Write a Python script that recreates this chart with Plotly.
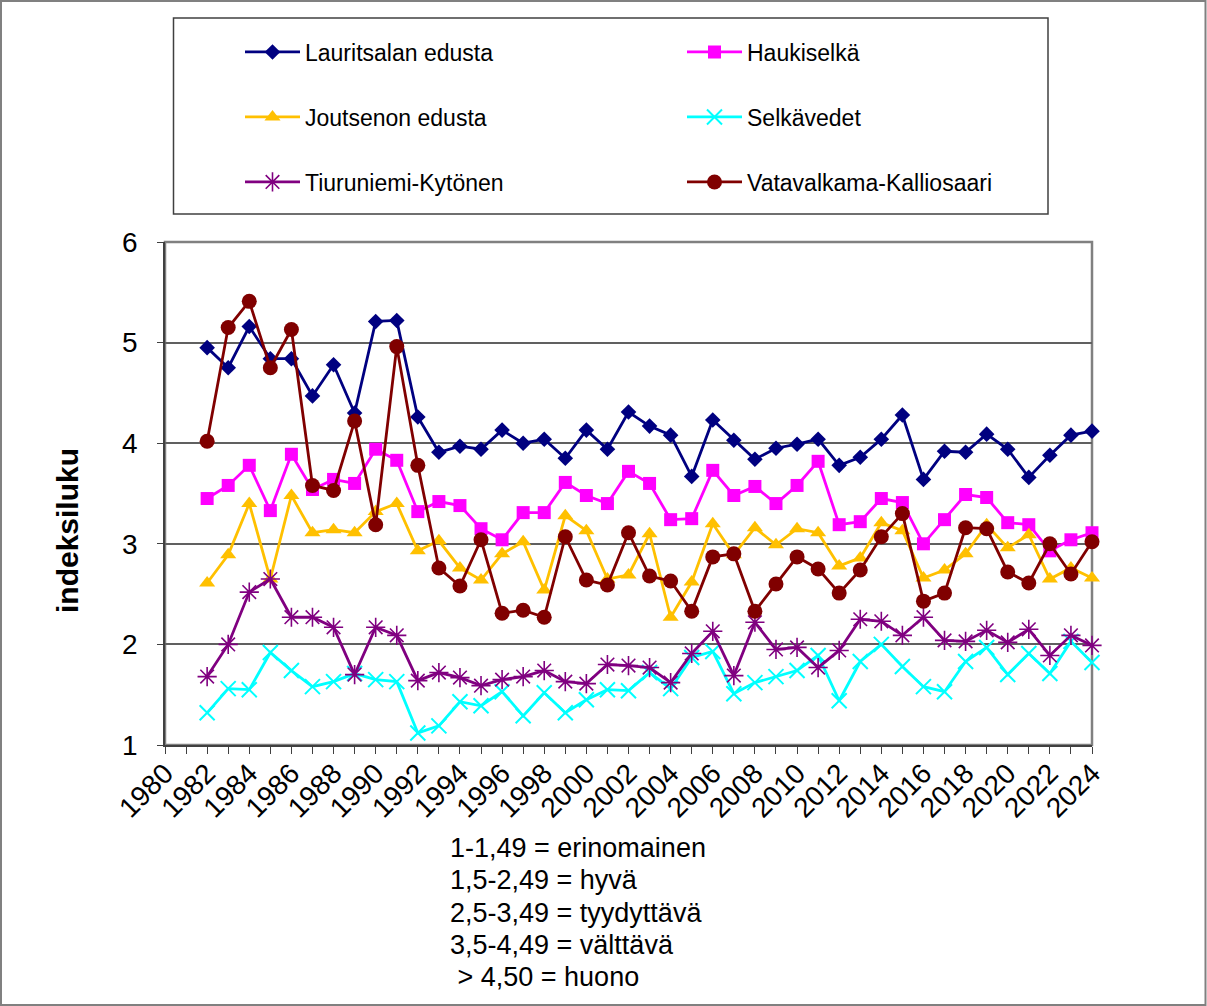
import plotly.graph_objects as go

years = list(range(1982, 2025))

lauritsalan = [4.95, 4.75, 5.16, 4.84, 4.84, 4.47, 4.78, 4.30, 5.21, 5.22, 4.26, 3.91, 3.97, 3.94,
               4.13, 4.00, 4.04, 3.85, 4.13, 3.94, 4.31, 4.17, 4.08, 3.67, 4.23, 4.03, 3.84, 3.95,
               3.99, 4.04, 3.78, 3.86, 4.04, 4.28, 3.64, 3.92, 3.91, 4.09, 3.94, 3.66, 3.88, 4.08, 4.12]
haukiselka = [3.45, 3.58, 3.78, 3.33, 3.89, 3.54, 3.64, 3.60, 3.94, 3.83, 3.32, 3.42, 3.38, 3.15,
              3.04, 3.31, 3.31, 3.61, 3.48, 3.40, 3.72, 3.60, 3.24, 3.25, 3.73, 3.48, 3.57, 3.40,
              3.58, 3.82, 3.19, 3.22, 3.45, 3.41, 3.00, 3.24, 3.49, 3.46, 3.21, 3.19, 2.93, 3.04, 3.11]
joutsenon = [2.61, 2.89, 3.40, 2.65, 3.48, 3.11, 3.14, 3.11, 3.32, 3.40, 2.93, 3.03, 2.76, 2.64,
             2.90, 3.02, 2.54, 3.28, 3.13, 2.65, 2.69, 3.10, 2.27, 2.62, 3.20, 2.89, 3.16, 2.99,
             3.15, 3.11, 2.78, 2.86, 3.21, 3.13, 2.66, 2.74, 2.90, 3.19, 2.96, 3.09, 2.65, 2.76, 2.66]
selkavedet = [1.32, 1.56, 1.55, 1.92, 1.74, 1.58, 1.63, 1.71, 1.65, 1.63, 1.12, 1.19, 1.43, 1.39,
              1.53, 1.29, 1.52, 1.32, 1.45, 1.55, 1.54, 1.72, 1.56, 1.87, 1.93, 1.51, 1.62, 1.68,
              1.74, 1.89, 1.44, 1.83, 2.00, 1.78, 1.58, 1.53, 1.83, 1.97, 1.70, 1.91, 1.71, 2.03, 1.82]
tiuruniemi = [1.68, 2.00, 2.52, 2.65, 2.27, 2.27, 2.17, 1.70, 2.17, 2.09, 1.64, 1.72, 1.67, 1.59,
              1.65, 1.68, 1.74, 1.63, 1.61, 1.80, 1.79, 1.77, 1.62, 1.91, 2.13, 1.69, 2.22, 1.95,
              1.97, 1.77, 1.94, 2.25, 2.23, 2.09, 2.27, 2.04, 2.03, 2.14, 2.02, 2.15, 1.89, 2.09, 1.99]
vatavalkama = [4.02, 5.15, 5.41, 4.75, 5.13, 3.58, 3.53, 4.22, 3.19, 4.96, 3.78, 2.76, 2.58, 3.04,
               2.31, 2.34, 2.27, 3.07, 2.64, 2.59, 3.11, 2.68, 2.63, 2.33, 2.87, 2.90, 2.33, 2.60,
               2.87, 2.75, 2.51, 2.74, 3.07, 3.30, 2.43, 2.51, 3.16, 3.15, 2.72, 2.61, 3.00, 2.70, 3.02]

series_names = ["Lauritsalan edusta", "Haukiselkä", "Joutsenon edusta",
                "Selkävedet", "Tiuruniemi-Kytönen", "Vatavalkama-Kalliosaari"]
series_values = [lauritsalan, haukiselka, joutsenon, selkavedet, tiuruniemi, vatavalkama]

tick_years = list(range(1980, 2025))
tick_labels = [str(y) if y % 2 == 0 else "" for y in tick_years]

class_lines = ["1-1,49 = erinomainen", "1,5-2,49 = hyvä", "2,5-3,49 = tyydyttävä",
               "3,5-4,49 = välttävä", " > 4,50 = huono"]
y_title = "indeksiluku"

FONT = "Liberation Sans, Arial, sans-serif"

styles = [
    dict(color="#000080", symbol="diamond", size=12, mline=0),
    dict(color="#FF00FF", symbol="square", size=13, mline=0),
    dict(color="#FFC000", symbol="triangle-up", size=14, mline=0),
    dict(color="#00FFFF", symbol="x-thin-open", size=15, mline=2),
    dict(color="#800080", symbol="asterisk-open", size=16, mline=1.6),
    dict(color="#800000", symbol="circle", size=15, mline=0),
]

# plot area in pixels
L, R, T, B = 165, 1092, 242, 745
W, H = 1207, 1006
def px(x):
    return (x - L) / (R - L)
def py(y):
    return (B - y) / (B - T)

legend_pos = [(240, 52), (682, 52), (240, 117), (682, 117), (240, 182), (682, 182)]

fig = go.Figure()
layout_legends = {}
for i, (name, vals, st) in enumerate(zip(series_names, series_values, styles)):
    lname = "legend" if i == 0 else f"legend{i+1}"
    fig.add_trace(go.Scatter(
        x=years, y=vals, name=name, mode="lines+markers",
        line=dict(color=st["color"], width=2.8),
        marker=dict(symbol=st["symbol"], size=st["size"], color=st["color"],
                    line=dict(color=st["color"], width=st["mline"])),
        cliponaxis=False, legend=lname,
    ))
    lx, ly = legend_pos[i]
    layout_legends[lname] = dict(
        x=px(lx), y=py(ly), xanchor="left", yanchor="middle",
        bgcolor="rgba(0,0,0,0)", borderwidth=0, itemwidth=55,
        font=dict(family=FONT, size=23, color="black"),
    )

for i, txt in enumerate(class_lines):
    fig.add_annotation(
        x=px(448), y=py(848 + i * 32.3), xref="paper", yref="paper",
        text=txt, showarrow=False, xanchor="left", yanchor="middle",
        font=dict(family=FONT, size=27, color="black"),
    )

fig.add_annotation(
    x=px(67), y=py(531), xref="paper", yref="paper",
    text=f"<b>{y_title}</b>", showarrow=False, textangle=-90,
    xanchor="center", yanchor="middle",
    font=dict(family=FONT, size=30, color="black"),
)

shapes = [
    # outer border
    dict(type="rect", xref="paper", yref="paper", x0=px(1), x1=px(1205.5), y0=py(1), y1=py(1005),
         line=dict(color="#808080", width=2), fillcolor="rgba(0,0,0,0)", layer="below"),
    # legend box
    dict(type="rect", xref="paper", yref="paper", x0=px(173.5), x1=px(1048), y0=py(18), y1=py(214),
         line=dict(color="#404040", width=1.5), fillcolor="rgba(0,0,0,0)", layer="below"),
    # plot border
    dict(type="rect", xref="paper", yref="paper", x0=0, x1=1, y0=0, y1=1,
         line=dict(color="#808080", width=2.5), fillcolor="rgba(0,0,0,0)", layer="below"),
]

fig.update_layout(
    width=W, height=H,
    margin=dict(l=L, r=W - R, t=T, b=H - B, pad=0),
    paper_bgcolor="white", plot_bgcolor="white",
    font=dict(family=FONT, size=20, color="black"),
    showlegend=True,
    shapes=shapes,
    **layout_legends,
)

fig.update_xaxes(
    range=[1980, 2024], tickmode="array", tickvals=tick_years, ticktext=tick_labels,
    showgrid=False, zeroline=False,
    showline=True, linecolor="#404040", linewidth=1.5,
    ticks="outside", ticklen=7, tickcolor="#404040", tickwidth=1,
    ticklabelstandoff=-8,
    tickangle=-45, tickfont=dict(family=FONT, size=28, color="black"),
)
fig.update_yaxes(
    range=[1, 6], tick0=1, dtick=1,
    showgrid=True, gridcolor="#606060", gridwidth=1.5, zeroline=False,
    showline=True, linecolor="#404040", linewidth=1.5,
    ticks="outside", ticklen=6, tickcolor="#404040", tickwidth=1,
    ticklabelstandoff=14,
    tickfont=dict(family=FONT, size=28, color="black"),
)

fig.write_html("out.html", config={"displayModeBar": False},
               post_script="document.body.style.margin='0px';")
